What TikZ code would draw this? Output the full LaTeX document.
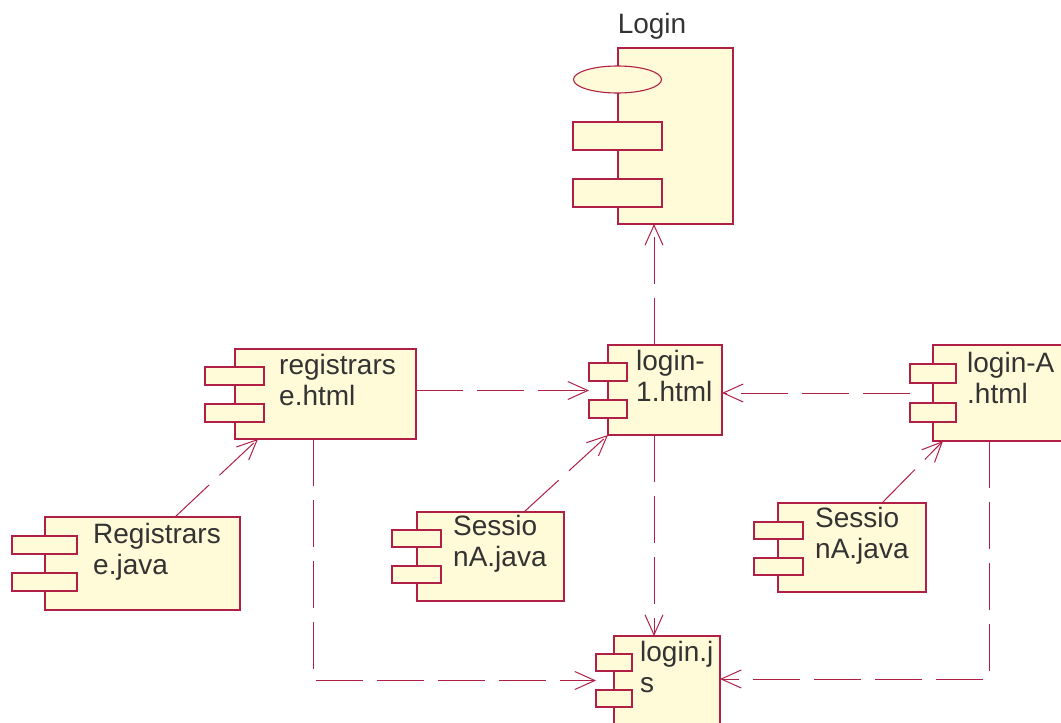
\documentclass[tikz,border=0pt]{standalone}
\usepackage{fontspec}
\setmainfont{Liberation Sans}
\usetikzlibrary{arrows.meta,calc,shapes.geometric}
\definecolor{umlline}{RGB}{176,32,70}
\definecolor{umlfill}{RGB}{255,250,215}
\definecolor{umltext}{RGB}{51,51,51}
\tikzset{
  comp/.style={draw=umlline, fill=umlfill, line width=1.1pt, rectangle, inner sep=0pt, outer sep=0pt, anchor=north west},
  port/.style={comp},
  lbl/.style={text=umltext, font=\fontsize{28}{31}\selectfont, inner sep=0pt, anchor=base west, align=left},
  dep/.style={draw=umlline, line width=1pt, dash pattern=on 47pt off 14pt, -{Straight Barb[length=20pt,width=18pt]}},
}
\begin{document}
\begin{tikzpicture}[x=1pt,y=-1pt]
\useasboundingbox (0,0) rectangle (1061,723);
\clip (0,0) rectangle (1061,723);

% Login component
\node[comp, minimum width=115pt, minimum height=176pt] (login) at (618,48) {};
\node[draw=umlline, fill=umlfill, line width=1.1pt, ellipse, inner sep=0pt, minimum width=88pt, minimum height=27pt] (loginell) at (617.5,79.5) {};
\node[port, minimum width=89pt, minimum height=28pt] (loginp1) at (573,122) {};
\node[port, minimum width=89pt, minimum height=28pt] (loginp2) at (573,179) {};
\node[text=umltext, font=\fontsize{28}{31}\selectfont, inner sep=0pt, anchor=base] (logint) at (652,33) {Login};

% registrarse.html
\node[comp, minimum width=181pt, minimum height=90pt] (rh) at (235,349) {};
\node[port, minimum width=59pt, minimum height=18pt] (rh1) at (205,367) {};
\node[port, minimum width=59pt, minimum height=18pt] (rh2) at (205,404) {};
\node[lbl] (rht) at (279,405) {registrars\\e.html};

% login-1.html
\node[comp, minimum width=114pt, minimum height=90pt] (l1) at (608,345) {};
\node[port, minimum width=38pt, minimum height=18pt] (l1p1) at (589,363) {};
\node[port, minimum width=38pt, minimum height=18pt] (l1p2) at (589,400) {};
\node[lbl] (l1t) at (636,401) {login-\\1.html};

% login-A.html
\node[comp, minimum width=150pt, minimum height=96pt] (la) at (933,345) {};
\node[port, minimum width=46pt, minimum height=19pt] (la1) at (910,364) {};
\node[port, minimum width=46pt, minimum height=19pt] (la2) at (910,403) {};
\node[lbl] (lat) at (967,403) {login-A\\.html};

% Registrarse.java
\node[comp, minimum width=195pt, minimum height=93pt] (rj) at (45,517) {};
\node[port, minimum width=65pt, minimum height=18pt] (rj1) at (12,536) {};
\node[port, minimum width=65pt, minimum height=18pt] (rj2) at (12,573) {};
\node[lbl] (rjt) at (93,574) {Registrars\\e.java};

% SessionA.java (left)
\node[comp, minimum width=147pt, minimum height=89pt] (s1) at (417,512) {};
\node[port, minimum width=49pt, minimum height=17pt] (s1p1) at (392,530) {};
\node[port, minimum width=49pt, minimum height=17pt] (s1p2) at (392,566) {};
\node[lbl] (s1t) at (453,566) {Sessio\\nA.java};

% SessionA.java (right)
\node[comp, minimum width=148pt, minimum height=89pt] (s2) at (778,503) {};
\node[port, minimum width=49pt, minimum height=17pt] (s2p1) at (754,522) {};
\node[port, minimum width=49pt, minimum height=17pt] (s2p2) at (754,558) {};
\node[lbl] (s2t) at (815,558) {Sessio\\nA.java};

% login.js
\node[comp, minimum width=106pt, minimum height=100pt] (lj) at (614,636) {};
\node[port, minimum width=36pt, minimum height=17pt] (lj1) at (596,654) {};
\node[port, minimum width=36pt, minimum height=17pt] (lj2) at (596,690) {};
\node[lbl] (ljt) at (640,692) {login.j\\s};

% helper coordinates
\coordinate (m1) at ($(l1p1.south west)!.5!(l1p2.north west)$);
\coordinate (m2) at ($(la1.south west)!.5!(la2.north west)$);
\coordinate (m3) at ($(lj1.south west)!.5!(lj2.north west)$);

% dependencies
\draw[dep] ([xshift=46pt]l1.north west) -- ([xshift=36pt]login.south west);
\draw[dep] (rh.east |- m1) -- (m1);
\draw[dep] (m2) -- (m2 -| l1.east);
\draw[dep] ([xshift=107pt]s1.north west) -- (l1.south west);
\draw[dep] ([xshift=130pt]rj.north west) -- ([xshift=23pt]rh.south west);
\draw[dep] ([xshift=104pt]s2.north west) -- ([xshift=10pt]la.south west);
\draw[dep] ([xshift=46pt]l1.south west) -- ([xshift=40pt]lj.north west);
\draw[dep] ([xshift=78pt]rh.south west) |- (m3);
\draw[dep] ([xshift=56pt]la.south west) |- ([yshift=-43pt]lj.north east);
\end{tikzpicture}
\end{document}
